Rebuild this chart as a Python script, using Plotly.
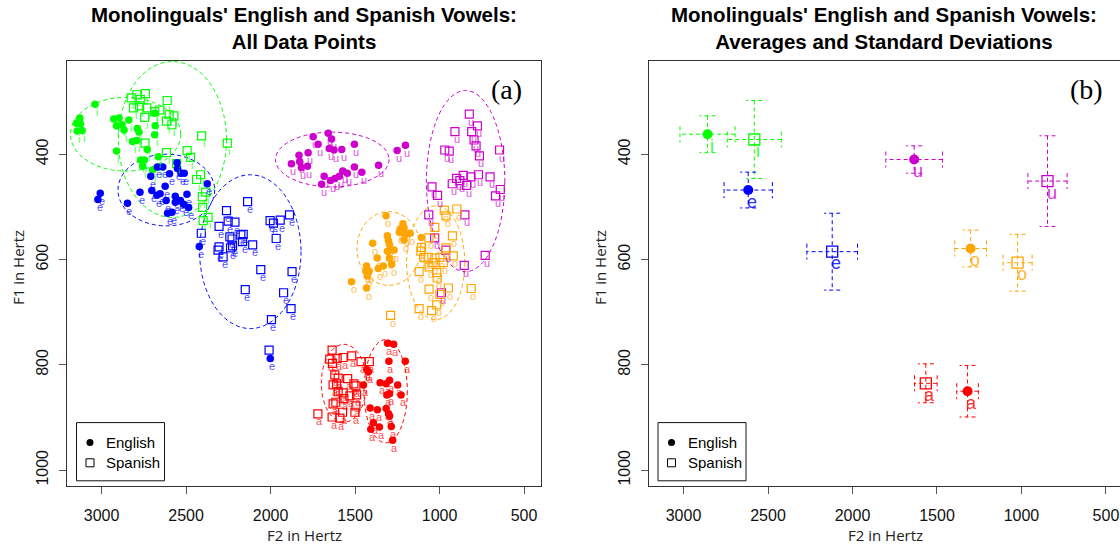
import plotly.graph_objects as go

W, H = 1120, 546

# ---------------- data (F2, F1 in Hertz) ----------------
eng_i_f2 = [3039, 3149, 3125, 3129, 3145, 3115, 2928, 2897, 2879, 2912, 2839, 2867, 2789, 2779,
            2817, 2793, 2730, 2912, 2747, 2757, 2683, 2686, 2685, 2769, 2698, 2663, 2665]
eng_i_f1 = [305, 341, 342, 331, 356, 355, 333, 331, 344, 346, 335, 354, 351, 358,
            376, 374, 391, 394, 411, 423, 346, 363, 322, 411, 430, 424, 405]
spa_i_f2 = [2825, 2791, 2741, 2771, 2775, 2811, 2732, 2686, 2656, 2612, 2600, 2572, 2616, 2584,
            2745, 2743, 2408, 2256, 2616, 2494, 2474, 2556, 2438, 2414, 2384, 2404, 2402, 2370, 2399]
spa_i_f1 = [293, 287, 285, 296, 308, 312, 312, 319, 316, 298, 325, 327, 337, 344,
            330, 379, 365, 379, 397, 393, 406, 418, 448, 439, 472, 481, 501, 520, 526]

eng_e_f2 = [3008, 3022, 2847, 2773, 2709, 2670, 2638, 2598, 2554, 2551, 2530, 2511, 2703, 2673,
            2654, 2624, 2564, 2534, 2495, 2618, 2515, 2485, 2610, 2584, 2375, 2564, 2422, 2002]
eng_e_f1 = [474, 486, 493, 472, 442, 424, 424, 437, 416, 427, 436, 436, 469, 478,
            475, 461, 480, 488, 476, 488, 495, 501, 512, 510, 456, 491, 575, 788]
spa_e_f2 = [2261, 2136, 2305, 2251, 2211, 2410, 2241, 2228, 2176, 2162, 2166, 2106, 2311, 2305,
            2281, 2237, 2225, 2003, 1983, 1943, 1888, 1967, 2058, 2150, 1873, 1923, 1879, 1995, 2009]
spa_e_f1 = [507, 490, 537, 527, 529, 550, 557, 561, 553, 552, 566, 572, 582, 576,
            595, 578, 574, 526, 531, 525, 515, 560, 619, 657, 623, 663, 693, 714, 772]

eng_u_f2 = [1748, 1659, 1639, 1719, 1653, 1625, 1579, 1504, 1832, 1778, 1877, 1828, 1818, 1782,
            1683, 1698, 1645, 1619, 1593, 1573, 1546, 1504, 1460, 1361, 1251, 1202]
eng_u_f1 = [367, 360, 371, 381, 389, 392, 391, 381, 402, 397, 418, 414, 425, 423,
            442, 457, 450, 446, 442, 432, 436, 424, 434, 421, 393, 383]
spa_u_f2 = [824, 909, 810, 776, 796, 784, 764, 645, 969, 943, 899, 860, 814, 770, 701,
            925, 880, 840, 1045, 1012, 669, 641, 1064, 850, 730, 1029, 963, 854, 989]
spa_u_f1 = [324, 357, 357, 346, 373, 384, 403, 392, 392, 394, 446, 440, 443, 439, 443,
            456, 450, 459, 462, 478, 479, 467, 515, 515, 592, 559, 582, 611, 663]

eng_o_f2 = [1317, 1396, 1309, 1303, 1297, 1287, 1309, 1269, 1369, 1297, 1217, 1233, 1210, 1238,
            1204, 1174, 1210, 1108, 1283, 1333, 1363, 1432, 1436, 1417, 1428, 1521, 1432]
eng_o_f1 = [517, 569, 555, 564, 571, 582, 584, 582, 597, 597, 532, 542, 540, 548,
            552, 550, 563, 558, 609, 612, 617, 612, 622, 622, 631, 642, 654]
spa_o_f2 = [972, 898, 962, 1028, 924, 1063, 1107, 1111, 962, 919, 1093, 1067, 1028, 998,
            978, 1038, 1121, 1062, 1017, 1014, 1062, 948, 813, 1121, 1047, 1017, 1290, 998]
spa_o_f1 = [506, 504, 517, 539, 555, 559, 577, 584, 578, 593, 596, 596, 597, 596,
            606, 606, 623, 614, 625, 635, 656, 654, 655, 693, 697, 686, 706, 666]

eng_a_f2 = [1308, 1272, 1300, 1203, 1431, 1421, 1352, 1316, 1296, 1248, 1451, 1312, 1296, 1228,
            1411, 1368, 1316, 1302, 1296, 1392, 1407, 1356, 1286, 1278]
eng_a_f1 = [759, 761, 793, 793, 809, 813, 834, 836, 829, 838, 838, 857, 855, 857,
            882, 885, 883, 893, 897, 910, 922, 918, 917, 943]
spa_a_f2 = [1636, 1650, 1606, 1571, 1520, 1634, 1465, 1416, 1620, 1600, 1544, 1507, 1630, 1610,
            1600, 1571, 1495, 1491, 1531, 1566, 1630, 1614, 1495, 1574, 1501, 1720, 1636, 1590]
spa_a_f1 = [772, 789, 788, 786, 783, 797, 794, 794, 819, 825, 826, 836, 838, 836,
            851, 853, 840, 857, 859, 864, 874, 871, 878, 890, 890, 893, 899, 901]

vowels = ["i", "e", "u", "o", "a"]
vowel_colors = ["#00FF00", "#0000FF", "#CD00CD", "#FFA500", "#FF0000"]

# averages and standard deviations (i, e, u, o, a)
eng_mean_f2 = [2858, 2617, 1635, 1301, 1319]
eng_mean_f1 = [362, 468, 410, 579, 850]
eng_sd_f2 = [163, 143, 168, 94, 64]
eng_sd_f1 = [35, 34, 26, 35, 49]
spa_mean_f2 = [2581, 2120, 846, 1023, 1566]
spa_mean_f1 = [372, 585, 451, 606, 835]
spa_sd_f2 = [160, 150, 116, 86, 67]
spa_sd_f1 = [74, 73, 86, 54, 37]

x_ticks = [3000, 2500, 2000, 1500, 1000, 500]
y_ticks = [400, 600, 800, 1000]

# ---------------- layout geometry (pixels) ----------------
L_X0, L_X1 = 66.8, 541.3
R_X0, R_X1 = 648.7, 1119.5
Y_TOP, Y_BOT = 60.5, 486.0
X_RANGE_L = [3206, 398]
HZ_PER_PX = (X_RANGE_L[0] - X_RANGE_L[1]) / (L_X1 - L_X0)
X_RANGE_R = [3206, 3206 - (R_X1 - R_X0) * HZ_PER_PX]
Y_RANGE = [1030, 222]
F1_PER_PX = (Y_RANGE[0] - Y_RANGE[1]) / (Y_BOT - Y_TOP)


def fx(px):
    return px / W


def fy(py):
    return 1 - py / H


groups = {
    "i": (eng_i_f2, eng_i_f1, spa_i_f2, spa_i_f1),
    "e": (eng_e_f2, eng_e_f1, spa_e_f2, spa_e_f1),
    "u": (eng_u_f2, eng_u_f1, spa_u_f2, spa_u_f1),
    "o": (eng_o_f2, eng_o_f1, spa_o_f2, spa_o_f1),
    "a": (eng_a_f2, eng_a_f1, spa_a_f2, spa_a_f1),
}

fig = go.Figure()
annotations = []
shapes = []

DASH = "4px,3px"
TXT_FONT = "Liberation Sans, Arial, Helvetica, sans-serif"

# ---------------- left panel ----------------
for k, v in enumerate(vowels):
    col = vowel_colors[k]
    ef2, ef1, sf2, sf1 = groups[v]
    # ellipses: mean +/- 2 SD
    for mx, my, sx, sy in [(eng_mean_f2[k], eng_mean_f1[k], eng_sd_f2[k], eng_sd_f1[k]),
                           (spa_mean_f2[k], spa_mean_f1[k], spa_sd_f2[k], spa_sd_f1[k])]:
        shapes.append(dict(type="circle", xref="x", yref="y",
                           x0=mx - 2 * sx, x1=mx + 2 * sx, y0=my - 2 * sy, y1=my + 2 * sy,
                           line=dict(color=col, width=1, dash=DASH), layer="below"))
    fig.add_trace(go.Scatter(x=sf2, y=sf1, mode="markers", xaxis="x", yaxis="y",
                             marker=dict(symbol="square-open", size=8, color=col,
                                         line=dict(width=1.2, color=col)),
                             showlegend=False, hoverinfo="skip"))
    fig.add_trace(go.Scatter(x=ef2, y=ef1, mode="markers", xaxis="x", yaxis="y",
                             marker=dict(symbol="circle", size=7.5, color=col, line=dict(width=0)),
                             showlegend=False, hoverinfo="skip"))
    for xs, ys in [(sf2, sf1), (ef2, ef1)]:
        for xv, yv in zip(xs, ys):
            annotations.append(dict(x=xv, y=yv, xref="x", yref="y", text=v, showarrow=False,
                                    xshift=2, yshift=-7.5, xanchor="center", yanchor="middle",
                                    font=dict(size=11, color=col, family=TXT_FONT), opacity=0.7))

# ---------------- right panel ----------------
CAP_PX = 8
cap_x = CAP_PX * HZ_PER_PX
cap_y = CAP_PX * F1_PER_PX
for k, v in enumerate(vowels):
    col = vowel_colors[k]
    for mx, my, sx, sy, sym, sz in [
        (eng_mean_f2[k], eng_mean_f1[k], eng_sd_f2[k], eng_sd_f1[k], "circle", 10),
        (spa_mean_f2[k], spa_mean_f1[k], spa_sd_f2[k], spa_sd_f1[k], "square-open", 11),
    ]:
        segs = [
            (mx - sx, my, mx + sx, my),
            (mx, my - sy, mx, my + sy),
            (mx - sx, my - cap_y, mx - sx, my + cap_y),
            (mx + sx, my - cap_y, mx + sx, my + cap_y),
            (mx - cap_x, my - sy, mx + cap_x, my - sy),
            (mx - cap_x, my + sy, mx + cap_x, my + sy),
        ]
        for x0, y0, x1, y1 in segs:
            shapes.append(dict(type="line", xref="x2", yref="y2", x0=x0, y0=y0, x1=x1, y1=y1,
                               line=dict(color=col, width=1, dash=DASH), layer="below"))
        fig.add_trace(go.Scatter(x=[mx], y=[my], mode="markers", xaxis="x2", yaxis="y2",
                                 marker=dict(symbol=sym, size=sz, color=col,
                                             line=dict(width=1.3, color=col) if sym != "circle" else dict(width=0)),
                                 showlegend=False, hoverinfo="skip"))
        annotations.append(dict(x=mx, y=my, xref="x2", yref="y2", text=v, showarrow=False,
                                xshift=4, yshift=-11.5, xanchor="center", yanchor="middle",
                                font=dict(size=18, color=col, family=TXT_FONT), opacity=0.8))

# ---------------- titles, labels, legends ----------------
TITLE_FONT = dict(size=20.5, color="#000", family=TXT_FONT)
annotations.append(dict(x=fx((L_X0 + L_X1) / 2), y=fy(27.5), xref="paper", yref="paper",
                        text="<b>Monolinguals' English and Spanish Vowels:<br>All Data Points</b>",
                        showarrow=False, xanchor="center", yanchor="middle", font=TITLE_FONT))
annotations.append(dict(x=fx(884), y=fy(27.5), xref="paper", yref="paper",
                        text="<b>Monolinguals' English and Spanish Vowels:<br>Averages and Standard Deviations</b>",
                        showarrow=False, xanchor="center", yanchor="middle", font=TITLE_FONT))
for lab, px in [("(a)", 506), ("(b)", 1086)]:
    annotations.append(dict(x=fx(px), y=fy(90), xref="paper", yref="paper", text=lab,
                            showarrow=False, xanchor="center", yanchor="middle",
                            font=dict(size=28, color="#000",
                                      family="Liberation Serif, Times New Roman, serif")))
AX_FONT = dict(size=15, color="#222", family="Open Sans, sans-serif")
for cx, cy in [((L_X0 + L_X1) / 2, 535), ((R_X0 + 1123) / 2, 535)]:
    annotations.append(dict(x=fx(cx), y=fy(cy), xref="paper", yref="paper", text="F2 in Hertz",
                            showarrow=False, xanchor="center", yanchor="middle", font=AX_FONT))
for cx in [18, 600]:
    annotations.append(dict(x=fx(cx), y=fy(268), xref="paper", yref="paper", text="F1 in Hertz",
                            textangle=-90, showarrow=False, xanchor="center", yanchor="middle",
                            font=AX_FONT))

# legends (drawn boxes)
for bx0 in [76.5, 658.0]:
    shapes.append(dict(type="rect", xref="paper", yref="paper", x0=fx(bx0), x1=fx(bx0 + 88),
                       y0=fy(480.8), y1=fy(422.6), line=dict(color="#111", width=1),
                       fillcolor="white", layer="above"))
    gx = bx0 + 13.5
    shapes.append(dict(type="circle", xref="paper", yref="paper", x0=fx(gx - 3.5), x1=fx(gx + 3.5),
                       y0=fy(442.4 + 3.5), y1=fy(442.4 - 3.5), line=dict(width=0),
                       fillcolor="#000", layer="above"))
    shapes.append(dict(type="rect", xref="paper", yref="paper", x0=fx(gx - 4), x1=fx(gx + 4),
                       y0=fy(462.8 + 4), y1=fy(462.8 - 4), line=dict(color="#000", width=1),
                       layer="above"))
    for txt, ty in [("English", 442.4), ("Spanish", 462.8)]:
        annotations.append(dict(x=fx(bx0 + 27.5), y=fy(ty), xref="paper", yref="paper", text=txt,
                                showarrow=False, xanchor="left", yanchor="middle",
                                font=dict(size=15, color="#000", family=TXT_FONT)))

axis_common = dict(showgrid=False, zeroline=False, showline=True, mirror=True,
                   linecolor="#333", linewidth=1, ticks="outside", ticklen=7,
                   tickcolor="#555", tickwidth=1,
                   tickfont=dict(size=16, color="#111", family=TXT_FONT))

fig.update_layout(
    width=W, height=H, autosize=False,
    margin=dict(l=0, r=0, t=0, b=0),
    paper_bgcolor="white", plot_bgcolor="white",
    showlegend=False,
    xaxis=dict(domain=[fx(L_X0), fx(L_X1)], range=X_RANGE_L, tickvals=x_ticks,
               anchor="y", ticklabelstandoff=8, **axis_common),
    yaxis=dict(domain=[fy(Y_BOT), fy(Y_TOP)], range=Y_RANGE, tickvals=y_ticks,
               anchor="x", tickangle=-90, ticklabelstandoff=4, **axis_common),
    xaxis2=dict(domain=[fx(R_X0), fx(R_X1)], range=X_RANGE_R, tickvals=x_ticks,
                anchor="y2", ticklabelstandoff=8, **axis_common),
    yaxis2=dict(domain=[fy(Y_BOT), fy(Y_TOP)], range=Y_RANGE, tickvals=y_ticks,
                anchor="x2", tickangle=-90, ticklabelstandoff=4, **axis_common),
    shapes=shapes,
    annotations=annotations,
)

fig.write_html("out.html", config={"displayModeBar": False, "staticPlot": True},
               post_script="document.body.style.margin='0';document.body.style.overflow='hidden';")
